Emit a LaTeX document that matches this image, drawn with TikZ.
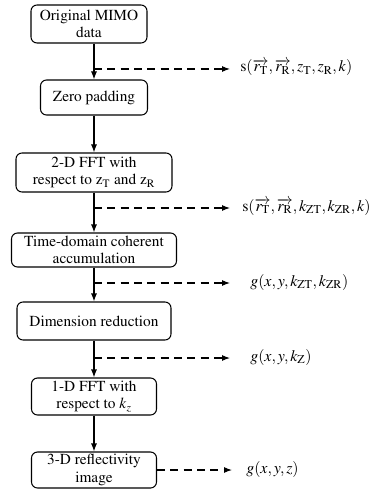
\documentclass[tikz,border=0pt]{standalone}
\usepackage[OT1]{fontenc}
\usepackage{mathptmx}
\usepackage{amsmath}
\usetikzlibrary{arrows.meta}

\begin{document}
\begin{tikzpicture}[x=0.75pt,y=-0.75pt,
  font=\fontsize{11.5pt}{13pt}\selectfont,
  box/.style={draw,line width=0.8pt,rounded corners=4.5pt,align=center,inner sep=1pt},
  flow/.style={line width=0.8pt,-{Latex[length=6pt,width=4.5pt]}},
  dashto/.style={flow,dash pattern=on 6pt off 4pt,shorten >=#1},
  lbl/.style={anchor=mid west,inner sep=0pt,font=\fontsize{12pt}{14pt}\selectfont}]
\useasboundingbox (0,0) rectangle (378,491);

\node[box,minimum width=87pt,minimum height=28.5pt] (orig) at (89,24) {Original MIMO\\data};
\node[box,minimum width=80.25pt,minimum height=26.25pt] (zero) at (94,97.5) {Zero padding};
\node[box,minimum width=117pt,minimum height=29.25pt] (fft2) at (94,172.5) {2-D FFT with\\respect to z\textsubscript{T} and z\textsubscript{R}};
\node[box,minimum width=123.75pt,minimum height=25.5pt] (accum) at (94,250) {Time-domain coherent\\accumulation};
\node[box,minimum width=115.5pt,minimum height=28.5pt] (dimred) at (94,321) {Dimension reduction};
\node[box,minimum width=93.75pt,minimum height=27.75pt] (fft1) at (94,396.5) {1-D FFT with\\respect to \textit{k}\textsubscript{\textit{z}}};
\node[box,minimum width=93.75pt,minimum height=27pt] (image) at (94,470) {3-D reflectivity\\image};

\coordinate (t1) at (94,69);
\coordinate (t2) at (94,208);
\coordinate (t3) at (94,283);
\coordinate (t4) at (94,358);

\node[lbl] (l1) at (240,69) {$\mathrm{s}(\overrightarrow{r_{\mathrm{T}}},\overrightarrow{r_{\mathrm{R}}},z_{\mathrm{T}},z_{\mathrm{R}},k)$};
\node[lbl] (l2) at (242,208) {$\mathrm{s}(\overrightarrow{r_{\mathrm{T}}},\overrightarrow{r_{\mathrm{R}}},k_{\mathrm{ZT}},k_{\mathrm{ZR}},k)$};
\node[lbl] (l3) at (250,283) {$g(x,y,k_{\mathrm{ZT}},k_{\mathrm{ZR}})$};
\node[lbl] (l4) at (250,358) {$g(x,y,k_{\mathrm{Z}})$};
\node[lbl] (l5) at (246,470) {$g(x,y,z)$};

\draw[flow] (orig.south -| zero.north) -- (zero.north);
\draw[flow] (zero) -- (fft2);
\draw[flow] (fft2) -- (accum);
\draw[flow] (accum) -- (dimred);
\draw[flow] (dimred) -- (fft1);
\draw[flow] (fft1) -- (image);

\draw[dashto=7.5pt] (t1) -- (t1 -| l1.west);
\draw[dashto=9pt] (t2) -- (t2 -| l2.west);
\draw[dashto=15pt] (t3) -- (t3 -| l3.west);
\draw[dashto=15pt] (t4) -- (t4 -| l4.west);
\draw[dashto=10.5pt] (image.east) -- (image.east -| l5.west);
\end{tikzpicture}
\end{document}
